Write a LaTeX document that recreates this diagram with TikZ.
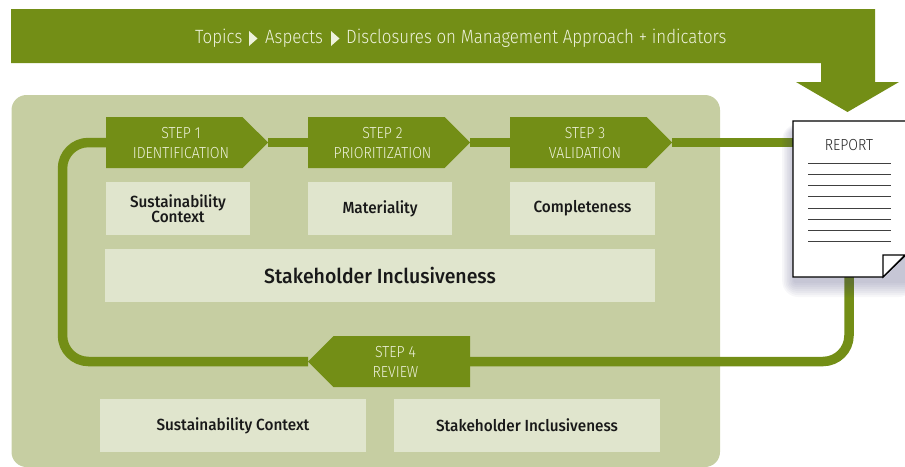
\documentclass[tikz,border=0pt]{standalone}
\usepackage{fontspec}
\setmainfont{Fira Sans Medium}[FakeStretch=0.95]
\newfontfamily\lightf{Fira Sans Light}[FakeStretch=0.88]
\usetikzlibrary{shapes.symbols,shapes.geometric}
\definecolor{grn}{HTML}{738E16}
\definecolor{panel}{HTML}{C6CEA2}
\definecolor{pale}{HTML}{E0E5CD}
\definecolor{cream}{HTML}{EEF2DC}
\tikzset{
  x=1pt,y=-1pt,
  loopline/.style={draw=grn,line width=9.5pt},
  stepshape/.style={signal,fill=grn,draw=none,inner sep=0pt,outer sep=0pt,minimum height=51pt,minimum width=162pt,signal pointer angle=90,signal from=nowhere,signal to=east},
  steplabel/.style={font=\lightf\fontsize{16}{20}\selectfont,text=cream,align=center,inner sep=0pt},
  topicbox/.style={fill=pale,draw=none,inner sep=0pt,align=center,text=black!90,font=\fontsize{16.1}{15}\selectfont},
  bannertext/.style={font=\lightf\fontsize{19.2}{20}\selectfont,text=cream,inner sep=0pt,anchor=base west},
  rule/.style={draw=black!75,line width=0.8pt},
}
\begin{document}
\begin{tikzpicture}
\useasboundingbox (0,0) rectangle (905,466);
\clip (0,0) rectangle (905,466);
% panel
\fill[panel,rounded corners=15pt] (11.5,95) rectangle (720,467);
% banner
\fill[grn] (11,9) -- (875,9) -- (875,82) -- (899,82) -- (847.5,112) -- (796,82) -- (821,82) -- (821,63) -- (11,63) -- cycle;
\node[bannertext] (tp) at (195,43) {Topics};
\fill[cream] (249,31) -- (257.5,38.5) -- (249,46) -- cycle;
\node[bannertext] (as) at (265,43) {Aspects};
\fill[cream] (331,31) -- (339.5,38.5) -- (331,46) -- cycle;
\node[bannertext] (dm) at (346,43) {Disclosures on Management Approach + indicators};
% step shapes
\node[stepshape,anchor=west] (s1) at (106,142.5) {};
\node[stepshape,anchor=west] (s2) at (308,142.5) {};
\node[stepshape,anchor=west] (s3) at (510,142.5) {};
\node[stepshape,signal to=west,anchor=east] (s4) at (470,361.5) {};
% report frame node
\node[minimum width=112pt,minimum height=156pt,inner sep=0pt,outer sep=0pt] (rep) at (849,199) {};
% connectors
\coordinate (ltop) at (62.5,142.5);
\coordinate (lbot) at (62.5,361.5);
\coordinate (rbot) at (849,361.5);
\draw[loopline] (s1.east) -- (s2.west);
\draw[loopline] (s2.east) -- (s3.west);
\draw[loopline] (s3.east) -- (s3.east -| rep.west);
\draw[loopline,rounded corners=26pt] (rep.south) -- (rbot) -- (s4.east);
\draw[loopline,rounded corners=26pt] (s4.west) -- (lbot) -- (ltop) -- (s1.west);
% step labels
\node[steplabel] (t1) at (181,143.5) {STEP 1\\IDENTIFICATION};
\node[steplabel] (t2) at (382.5,143.5) {STEP 2\\PRIORITIZATION};
\node[steplabel] (t3) at (585,143.5) {STEP 3\\VALIDATION};
\node[steplabel] (t4) at (395.5,361.5) {STEP 4\\REVIEW};
% boxes
\node[topicbox,minimum width=144pt,minimum height=53pt] (b1) at (178,208.5) {Sustainability\\Context};
\node[topicbox,minimum width=144pt,minimum height=53pt] (b2) at (380,208.5) {\raisebox{-3.5pt}{Materiality}};
\node[topicbox,minimum width=145pt,minimum height=53pt] (b3) at (582.5,208.5) {\raisebox{-1.5pt}{Completeness}};
\node[topicbox,minimum width=550pt,minimum height=53pt,font=\fontsize{20.5}{20}\selectfont] (b4) at (380,275.5) {Stakeholder Inclusiveness};
\node[topicbox,minimum width=266pt,minimum height=53pt] (b5) at (233,425.5) {\raisebox{-2pt}{Sustainability Context}};
\node[topicbox,minimum width=266pt,minimum height=53pt] (b6) at (527,425.5) {\raisebox{0pt}{Stakeholder Inclusiveness}};
% report shadow
\foreach \g in {16,14,12,10,8,6,4,2}{
  \fill[black!60!blue!50!gray,opacity=0.045,rounded corners=\g pt] (795-0.8*\g,132-0.5*\g) rectangle (915,281+\g);
}
% report page
\path[fill=white,draw=black,line width=1.1pt,line join=miter] (793,121) -- (906,121) -- (906,255) -- (883,277) -- (793,277) -- cycle;
\path[fill=white,draw=black,line width=1.1pt] (883,255) -- (905,255) -- (883,277) -- cycle;
\node[font=\lightf\fontsize{16}{15}\selectfont,inner sep=0pt,text=black!85] (rt) at (849,145.5) {REPORT};
\foreach \y in {163.5,174.6,185.7,196.8,207.9,219,230.1,241.2}{
  \draw[rule] (808,\y) -- (891,\y);
}
\end{tikzpicture}
\end{document}
